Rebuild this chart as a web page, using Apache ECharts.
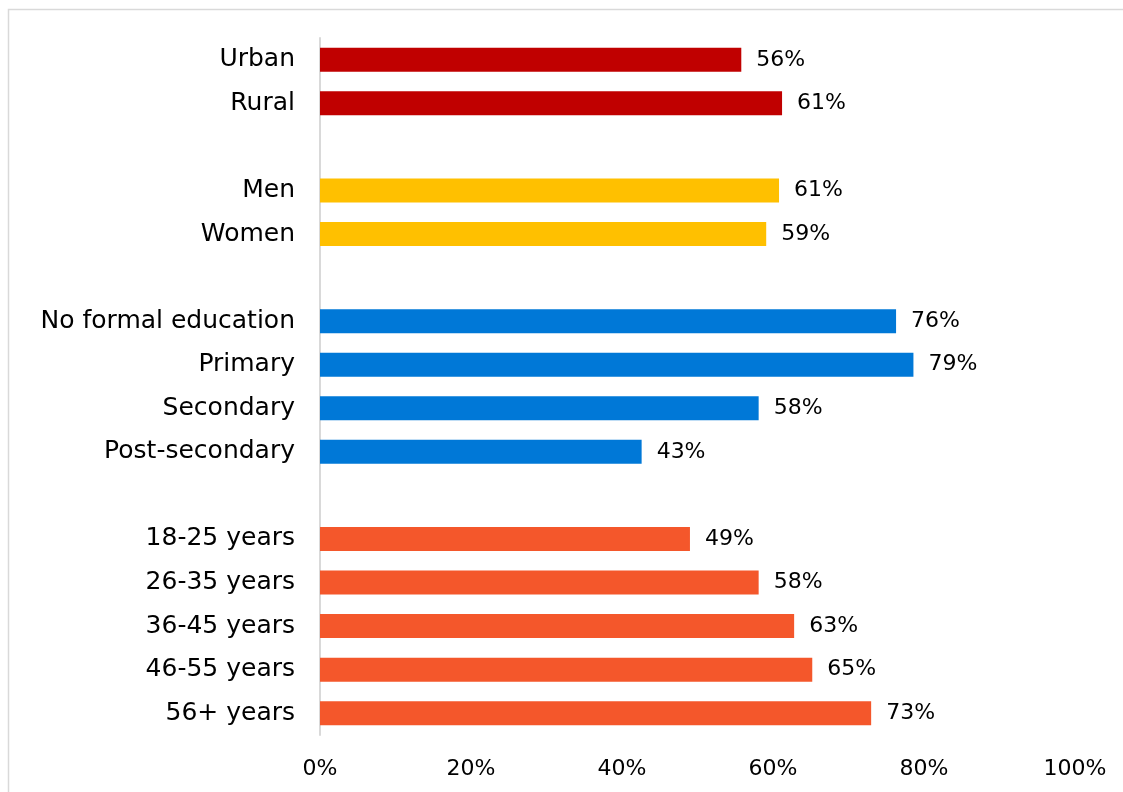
<!DOCTYPE html>
<html><head><meta charset="utf-8">
<script src="https://cdn.jsdelivr.net/npm/echarts@6/dist/echarts.min.js"></script>
<style>html,body{margin:0;padding:0;background:#fff}#c{width:1123px;height:792px}</style>
</head><body><div id="c"></div>
<script>
const categories = ['Urban','Rural','','Men','Women','','No formal education','Primary','Secondary','Post-secondary','','18-25 years','26-35 years','36-45 years','46-55 years','56+ years'];
const values = [55.8, 61.2, null, 60.8, 59.1, null, 76.3, 78.6, 58.1, 42.6, null, 49.0, 58.1, 62.8, 65.2, 73.0];
const groups = [0,0,-1,1,1,-1,2,2,2,2,-1,3,3,3,3,3];
const xTicks = [0,20,40,60,80,100];
const groupColors = ['#C00000','#FFC000','#0078D7','#F4572B'];
const FONT = 'DejaVu Sans';

const chart = echarts.init(document.getElementById('c'));
chart.setOption({
  animation:false,
  graphic:[{type:'rect',shape:{x:8.5,y:9.5,width:1300,height:1000},style:{fill:'none',stroke:'#d9d9d9',lineWidth:1.5},silent:true}],
  grid:{left:320,right:48,top:38,bottom:57},
  xAxis:{type:'value',min:xTicks[0],max:xTicks[xTicks.length-1],interval:xTicks[1]-xTicks[0],
    axisLine:{show:false},axisTick:{show:false},splitLine:{show:false},
    axisLabel:{margin:23,fontFamily:FONT,fontSize:22,color:'#000',formatter:v=>v+'%'}},
  yAxis:{type:'category',data:categories,inverse:true,
    axisLine:{show:true,lineStyle:{color:'#d9d9d9',width:2}},axisTick:{show:false},
    axisLabel:{margin:25,fontFamily:FONT,fontSize:25,color:'#000'}},
  series:[{type:'bar',barWidth:'55%',
    data:values.map((v,i)=>({value:v,itemStyle:{color:groups[i]>=0?groupColors[groups[i]]:'transparent'}})),
    label:{show:true,position:'right',distance:15,fontFamily:FONT,fontSize:22,color:'#000',
      formatter:p=>p.value==null?'':Math.round(p.value)+'%'}}]
});
</script></body></html>
